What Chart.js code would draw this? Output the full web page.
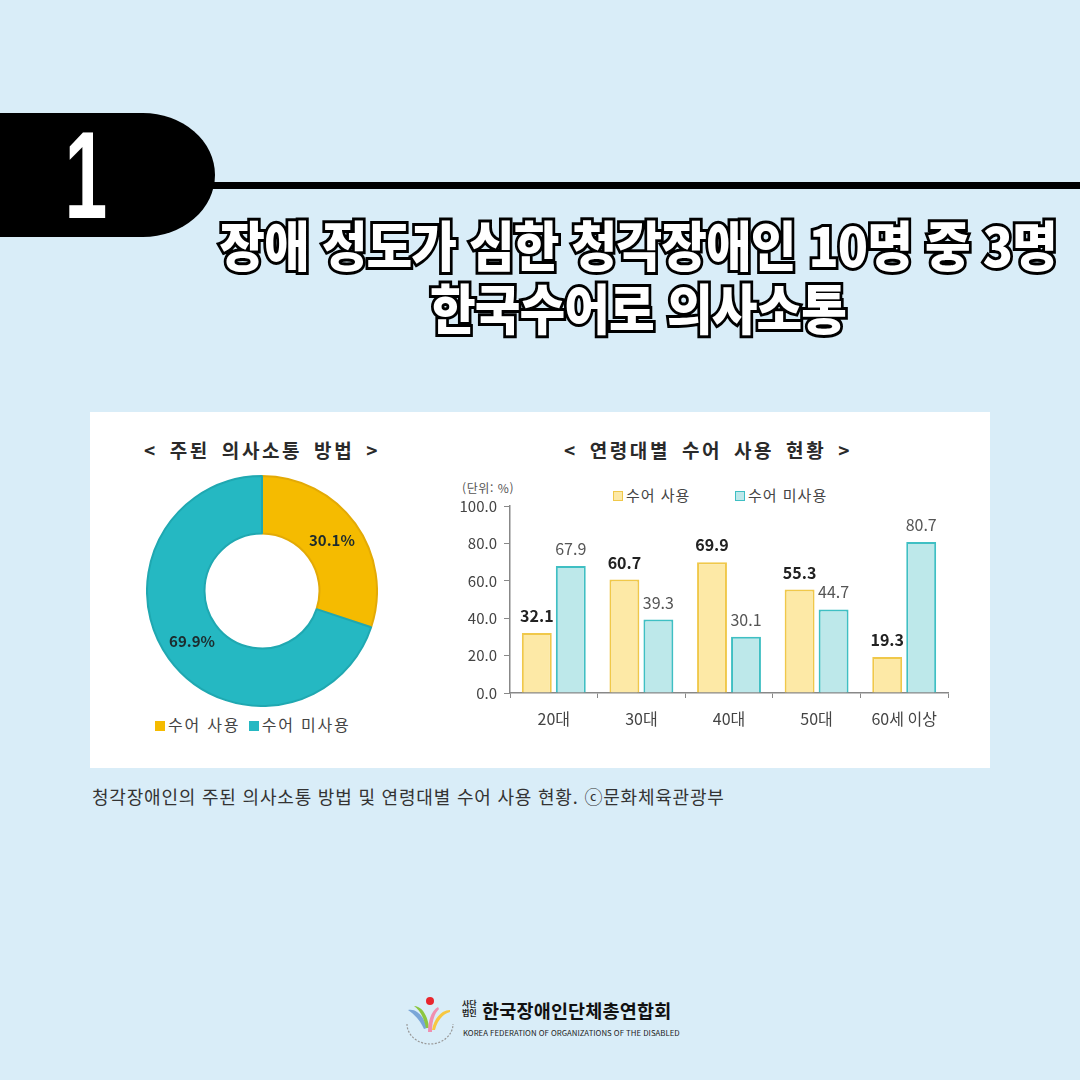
<!DOCTYPE html>
<html lang="ko">
<head>
<meta charset="utf-8">
<script src="https://cdn.jsdelivr.net/npm/chart.js@4.4.1/dist/chart.umd.min.js"></script>
<style>
  html, body { margin: 0; padding: 0; }
  body {
    width: 1080px; height: 1080px; position: relative; overflow: hidden;
    background: #d9edf8;
    font-family: "Noto Sans CJK KR", "Noto Sans", sans-serif;
  }
  .tab {
    position: absolute; left: 0; top: 113px; width: 215px; height: 124px;
    background: #000; border-radius: 0 72px 72px 0 / 0 62px 62px 0;
  }
  .rule { position: absolute; left: 205px; top: 182px; width: 875px; height: 7px; background: #000; }
  .num {
    position: absolute; left: 36px; top: 100px; width: 100px; text-align: center;
    font-size: 124px; font-weight: 900; color: #fff; line-height: 150px;
    transform: scaleX(0.62);
    font-family: "Liberation Sans", "Noto Sans", sans-serif;
  }
  .headline {
    position: absolute; left: 138px; top: 212px; width: 1000px; text-align: center;
    font-size: 54px; font-weight: 900; line-height: 63px; color: #fff;
    -webkit-text-stroke: 6px #000; paint-order: stroke fill;
    transform: scaleX(0.92); white-space: nowrap; letter-spacing: -1px;
  }
  .panel { position: absolute; left: 90px; top: 412px; width: 900px; height: 356px; background: #fff; }
  .ptitle {
    position: absolute; font-size: 19px; font-weight: 700; color: #2a2a2a;
    letter-spacing: 2.6px; word-spacing: 4px; white-space: nowrap; text-align: center;
  }
  .legend { position: absolute; font-size: 16px; color: #444; white-space: nowrap; letter-spacing: 1px; }
  .legend i { display: inline-block; width: 10px; height: 10px; margin-right: 3px; vertical-align: 0px; }
  .unit { position: absolute; left: 462px; top: 479px; font-size: 12px; color: #555; letter-spacing: 0.6px; }
  .caption { position: absolute; left: 92px; top: 783px; font-size: 18px; color: #333; white-space: nowrap; letter-spacing: 0.8px; }
  canvas { position: absolute; }
  .logo { position: absolute; left: 402px; top: 994px; }
  .org { position: absolute; left: 482px; top: 997px; font-size: 18.5px; font-weight: 700; color: #111; white-space: nowrap; letter-spacing: 0.2px; }
  .corp { position: absolute; left: 462px; top: 999px; font-size: 8px; line-height: 9px; font-weight: 700; color: #222; }
  .eng { position: absolute; left: 463px; top: 1027px; font-size: 7.8px; color: #222; white-space: nowrap; }
</style>
</head>
<body>
<div class="tab"></div>
<div class="rule"></div>
<div class="num">1</div>
<div class="headline">장애 정도가 심한 청각장애인 10명 중 3명<br>한국수어로 의사소통</div>

<div class="panel"></div>
<div class="ptitle" style="left:132px; top:436px; width:260px">&lt; 주된 의사소통 방법 &gt;</div>
<div class="ptitle" style="left:548px; top:436px; width:320px">&lt; 연령대별 수어 사용 현황 &gt;</div>
<div class="unit">(단위: %)</div>
<div class="legend" style="left:613px; top:484px; font-size:15px">
  <i style="background:#fde9a6; border:1.5px solid #f0c84a; width:8px; height:8px"></i>수어 사용
</div>
<div class="legend" style="left:735px; top:484px; font-size:15px">
  <i style="background:#bde8ea; border:1.5px solid #3fbfc3; width:8px; height:8px"></i>수어 미사용
</div>
<div class="legend" style="left:155px; top:712px; letter-spacing:1.8px">
  <i style="background:#f5bb00"></i>수어 사용 <i style="background:#25b8c2; margin-left:2px"></i>수어 미사용
</div>

<canvas id="donut" width="232" height="232" style="left:146px; top:475px; width:232px; height:232px"></canvas>
<canvas id="bars" width="510" height="246" style="left:450px; top:490px; width:510px; height:246px"></canvas>

<div class="caption">청각장애인의 주된 의사소통 방법 및 연령대별 수어 사용 현황. ⓒ문화체육관광부</div>

<svg class="logo" width="56" height="52" viewBox="0 0 56 52">
  <circle cx="28" cy="7" r="4" fill="#e8262d"/>
  <path d="M6 16 C14 14 22 22 25 34 L22 35 C18 26 12 20 6 16Z" fill="#7aa6d8"/>
  <path d="M12 12 C20 12 26 22 27 34 L24 34 C22 24 18 16 12 12Z" fill="#8cc63f"/>
  <path d="M26 38 C26 26 30 16 36 13 L37 15 C32 20 30 28 30 38Z" fill="#f08fb0"/>
  <path d="M30 36 C32 24 40 16 48 16 L48 18 C40 20 35 28 33 36Z" fill="#f7c740"/>
  <path d="M5 30 A23 20 0 0 0 51 30" fill="none" stroke="#999" stroke-width="1.2" stroke-dasharray="2 1.5"/>
</svg>
<div class="corp">사단<br>법인</div>
<div class="org">한국장애인단체총연합회</div>
<div class="eng">KOREA FEDERATION OF ORGANIZATIONS OF THE DISABLED</div>

<script>
// 주된 의사소통 방법 (%)
const methodLabels = ['수어 사용', '수어 미사용'];
const methodShare = [30.1, 69.9];

// 연령대별 수어 사용 현황 (%)
const ageGroups = ['20대', '30대', '40대', '50대', '60세 이상'];
const signUse = [32.1, 60.7, 69.9, 55.3, 19.3];
const noSignUse = [67.9, 39.3, 30.1, 44.7, 80.7];

const FONT = '"Noto Sans CJK KR", "Noto Sans", sans-serif';

/**
 * Draw value labels from the chart elements
 */
const valueLabels = {
    id: 'valueLabels',
    afterDatasetsDraw: function(chart, args, opts) {
        const ctx = chart.ctx;
        ctx.save();
        chart.data.datasets.forEach(function(ds, i) {
            const meta = chart.getDatasetMeta(i);
            const style = opts.styles[i];
            ctx.font = style.weight + ' ' + style.size + 'px ' + FONT;
            ctx.fillStyle = style.color;
            ctx.textAlign = 'center';
            meta.data.forEach(function(el, j) {
                const v = ds.data[j];
                const text = v.toFixed(1) + (opts.suffix || '');
                if (opts.mode === 'arc') {
                    const p = el.tooltipPosition();
                    ctx.textBaseline = 'middle';
                    ctx.fillText(text, p.x, p.y);
                } else {
                    ctx.textBaseline = 'bottom';
                    ctx.fillText(text, el.x, el.y - 9);
                }
            });
        });
        ctx.restore();
    }
};

new Chart(document.getElementById('donut'), {
    type: 'doughnut',
    data: {
        labels: methodLabels,
        datasets: [{
            data: methodShare,
            backgroundColor: ['#f5bb00', '#25b8c2'],
            borderColor: ['#e3aa05', '#1fa8b1'],
            borderWidth: 2
        }]
    },
    options: {
        responsive: false,
        animation: false,
        cutout: '50%',
        plugins: {
            legend: { display: false },
            tooltip: { enabled: false },
            valueLabels: {
                mode: 'arc',
                suffix: '%',
                styles: [{ weight: 'bold', size: 15, color: '#1c2b2d' }]
            }
        }
    },
    plugins: [valueLabels]
});

new Chart(document.getElementById('bars'), {
    type: 'bar',
    data: {
        labels: ageGroups,
        datasets: [{
            label: '수어 사용',
            data: signUse,
            backgroundColor: '#fde9a6',
            borderColor: '#f0c84a',
            borderWidth: 2
        }, {
            label: '수어 미사용',
            data: noSignUse,
            backgroundColor: '#bde8ea',
            borderColor: '#3fbfc3',
            borderWidth: 2
        }]
    },
    options: {
        responsive: false,
        animation: false,
        categoryPercentage: 0.776,
        barPercentage: 0.88,
        layout: { padding: { top: 4, right: 12, left: 0, bottom: 0 } },
        plugins: {
            legend: { display: false },
            tooltip: { enabled: false },
            valueLabels: {
                mode: 'bar',
                styles: [
                    { weight: 'bold', size: 16, color: '#222' },
                    { weight: 'normal', size: 16, color: '#555' }
                ]
            }
        },
        scales: {
            x: {
                afterFit: function(s) { s.height = 43; },
                grid: { drawOnChartArea: false, drawTicks: true, tickLength: 5, color: '#888' },
                border: { color: '#888', width: 1.5 },
                ticks: { color: '#444', padding: 11, font: { family: FONT, size: 16 } }
            },
            y: {
                min: 0,
                max: 100,
                afterFit: function(s) { s.width = 60; },
                grid: { drawOnChartArea: false, drawTicks: true, tickLength: 6, color: '#888' },
                border: { color: '#888', width: 1.5 },
                ticks: {
                    stepSize: 20,
                    color: '#444',
                    padding: 7,
                    font: { family: FONT, size: 15 },
                    callback: function(value) { return value.toFixed(1); }
                }
            }
        }
    },
    plugins: [valueLabels]
});
</script>
</body>
</html>
